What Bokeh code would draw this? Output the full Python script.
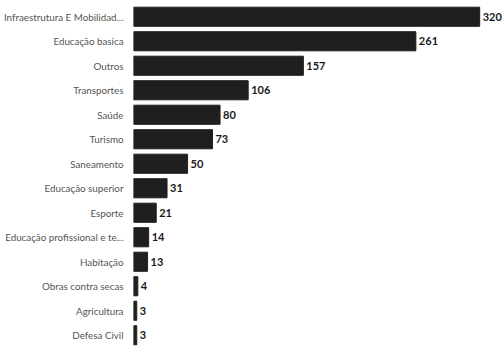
from bokeh.plotting import figure
from bokeh.models import Range1d, FactorRange, ColumnDataSource
from bokeh.core.properties import value
from bokeh.embed import file_html
from bokeh.resources import INLINE

categories = ["Infraestrutura E Mobilidad...", "Educação basica", "Outros", "Transportes",
              "Saúde", "Turismo", "Saneamento", "Educação superior", "Esporte",
              "Educação profissional e te...", "Habitação", "Obras contra secas",
              "Agricultura", "Defesa Civil"]
values = [320, 261, 157, 106, 80, 73, 50, 31, 21, 14, 13, 4, 3, 3]

FONT = "Lato"

src = ColumnDataSource(dict(cat=categories, val=values, lbl=[str(v) for v in values]))

p = figure(width=503, height=347, output_backend="svg", toolbar_location=None,
           y_range=FactorRange(*categories[::-1], range_padding=0),
           x_range=Range1d(0, 342),
           min_border_left=133, min_border_right=0, min_border_top=4, min_border_bottom=0)
p.hbar(y="cat", right="val", left=0, height=0.78, source=src,
       fill_color="#1f1f1f", line_color="#1f1f1f")
p.text(x="val", y="cat", text="lbl", source=src, x_offset=3, text_baseline="middle",
       text_align="left", text_font=value(FONT), text_font_size="11px",
       text_color="#1a1a1a", text_font_style="bold")

p.xaxis.visible = False
p.yaxis.axis_line_color = None
p.yaxis.major_tick_line_color = None
p.yaxis.minor_tick_line_color = None
p.yaxis.major_label_text_font = FONT
p.yaxis.major_label_text_font_size = "9.8px"
p.yaxis.major_label_text_color = "#555555"
p.yaxis.major_label_standoff = 4
p.xgrid.visible = False
p.ygrid.visible = False
p.outline_line_color = None

open("out.html", "w").write(file_html(p, INLINE))
